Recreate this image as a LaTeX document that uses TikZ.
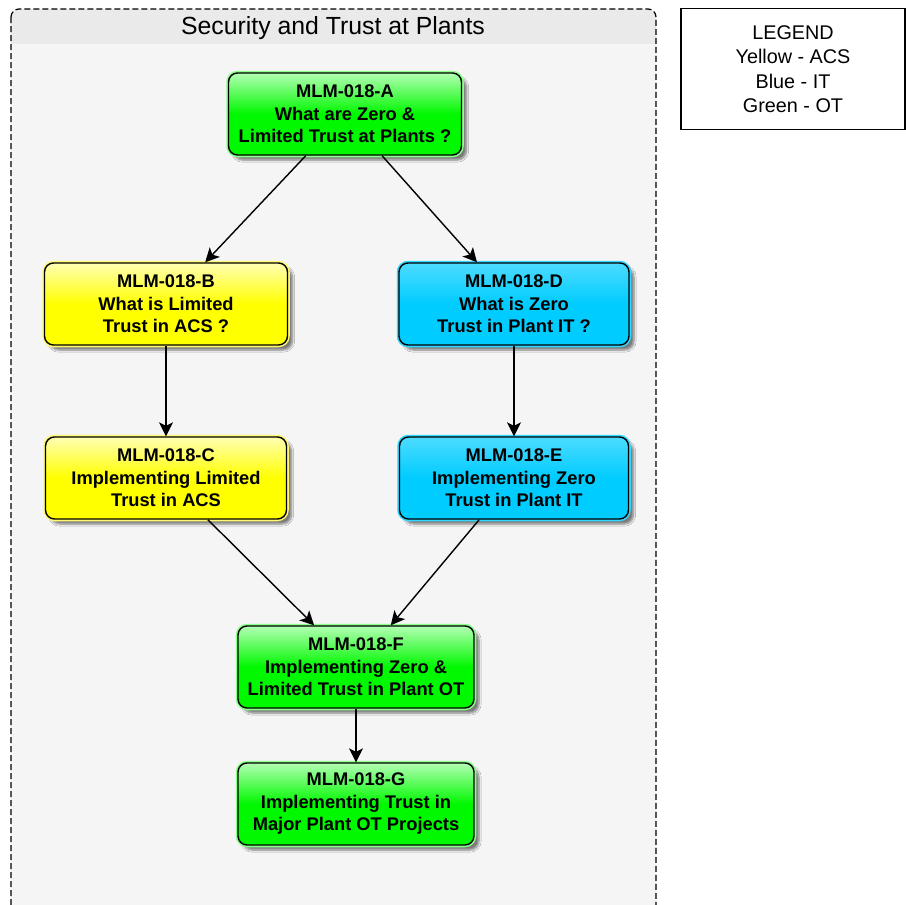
\documentclass[tikz,border=0pt]{standalone}
\usepackage{fontspec}
\setmainfont{Liberation Sans}
\usetikzlibrary{positioning,shadows.blur,arrows.meta}

\definecolor{plantgreen}{HTML}{00F800}
\definecolor{plantyellow}{HTML}{FFFF00}
\definecolor{plantblue}{HTML}{00CCFF}
\definecolor{panelgray}{HTML}{F5F5F5}
\definecolor{bandgray}{HTML}{EAEAEA}

\begin{document}
\begin{tikzpicture}
            [x=1pt, y=-1pt,
             box/.style = {draw=black, line width=1.4pt, rounded corners=9pt, align=center,
                           minimum height=82pt, inner sep=1pt,
                           font=\fontsize{18.3}{22.5}\selectfont\bfseries,
                           blur shadow={shadow xshift=5pt, shadow yshift=-5pt,
                                        shadow blur steps=6, shadow opacity=50}},
             greenbox/.style = {box, preaction={draw=green!45!white, line width=4.5pt},
                                top color=green!30!white, bottom color=plantgreen, middle color=plantgreen},
             yellowbox/.style = {box, preaction={draw=yellow!55!white, line width=4.5pt},
                                 top color=yellow!30!white, bottom color=plantyellow, middle color=plantyellow},
             bluebox/.style = {box, preaction={draw=plantblue!80!white, line width=4.5pt},
                               top color=plantblue!70!white, bottom color=plantblue, middle color=plantblue},
             link/.style = {-{Stealth[length=14pt, width=14pt, inset=3.5pt]}, line width=1.4pt}]

            \useasboundingbox (0,0) rectangle (906,905);
            \clip (0,0) rectangle (906,905);

            % panel with title band
            \fill[panelgray, rounded corners=8pt] (11,9) rectangle (656,940);
            \begin{scope}
                \clip[rounded corners=8pt] (11,9) rectangle (656,940);
                \fill[bandgray] (11,9) rectangle (656,44);
            \end{scope}
            \draw[dashed, line width=1.2pt, dash pattern=on 6pt off 3pt, rounded corners=8pt]
                (11,9) rectangle (656,940);
            \node[font=\fontsize{24.8}{28}\selectfont] (title) at (333,28) {Security and Trust at Plants};

            % legend
            \node[draw=black, line width=1.2pt, minimum width=224pt, minimum height=121pt, align=center,
                  font=\fontsize{19.8}{24.5}\selectfont] (legend) at (793,69)
                  {LEGEND\\Yellow - ACS\\Blue - IT\\Green - OT};

            % modules
            \node[greenbox, minimum width=233pt] (a) at (345,114) {MLM-018-A\\What are Zero \&\\Limited Trust at Plants ?};
            \node[yellowbox, minimum width=243pt] (b) at (166,304) {MLM-018-B\\What is Limited\\Trust in ACS ?};
            \node[bluebox, minimum width=230pt] (d) at (514,304) {MLM-018-D\\What is Zero\\Trust in Plant IT ?};
            \node[yellowbox, minimum width=241pt] (c) at (166,478) {MLM-018-C\\Implementing Limited\\Trust in ACS};
            \node[bluebox, minimum width=229pt] (e) at (514,478) {MLM-018-E\\Implementing Zero\\Trust in Plant IT};
            \node[greenbox, minimum width=236pt] (f) at (356,667) {MLM-018-F\\Implementing Zero \&\\Limited Trust in Plant OT};
            \node[greenbox, minimum width=236pt] (g) at (356,804) {MLM-018-G\\Implementing Trust in\\Major Plant OT Projects};

            \draw[link] (a) to (b);
            \draw[link] (a) to (d);
            \draw[link] (b) to (c);
            \draw[link] (d) to (e);
            \draw[link] (c) to (f);
            \draw[link] (e) to (f);
            \draw[link] (f) to (g);

        \end{tikzpicture}
\end{document}
